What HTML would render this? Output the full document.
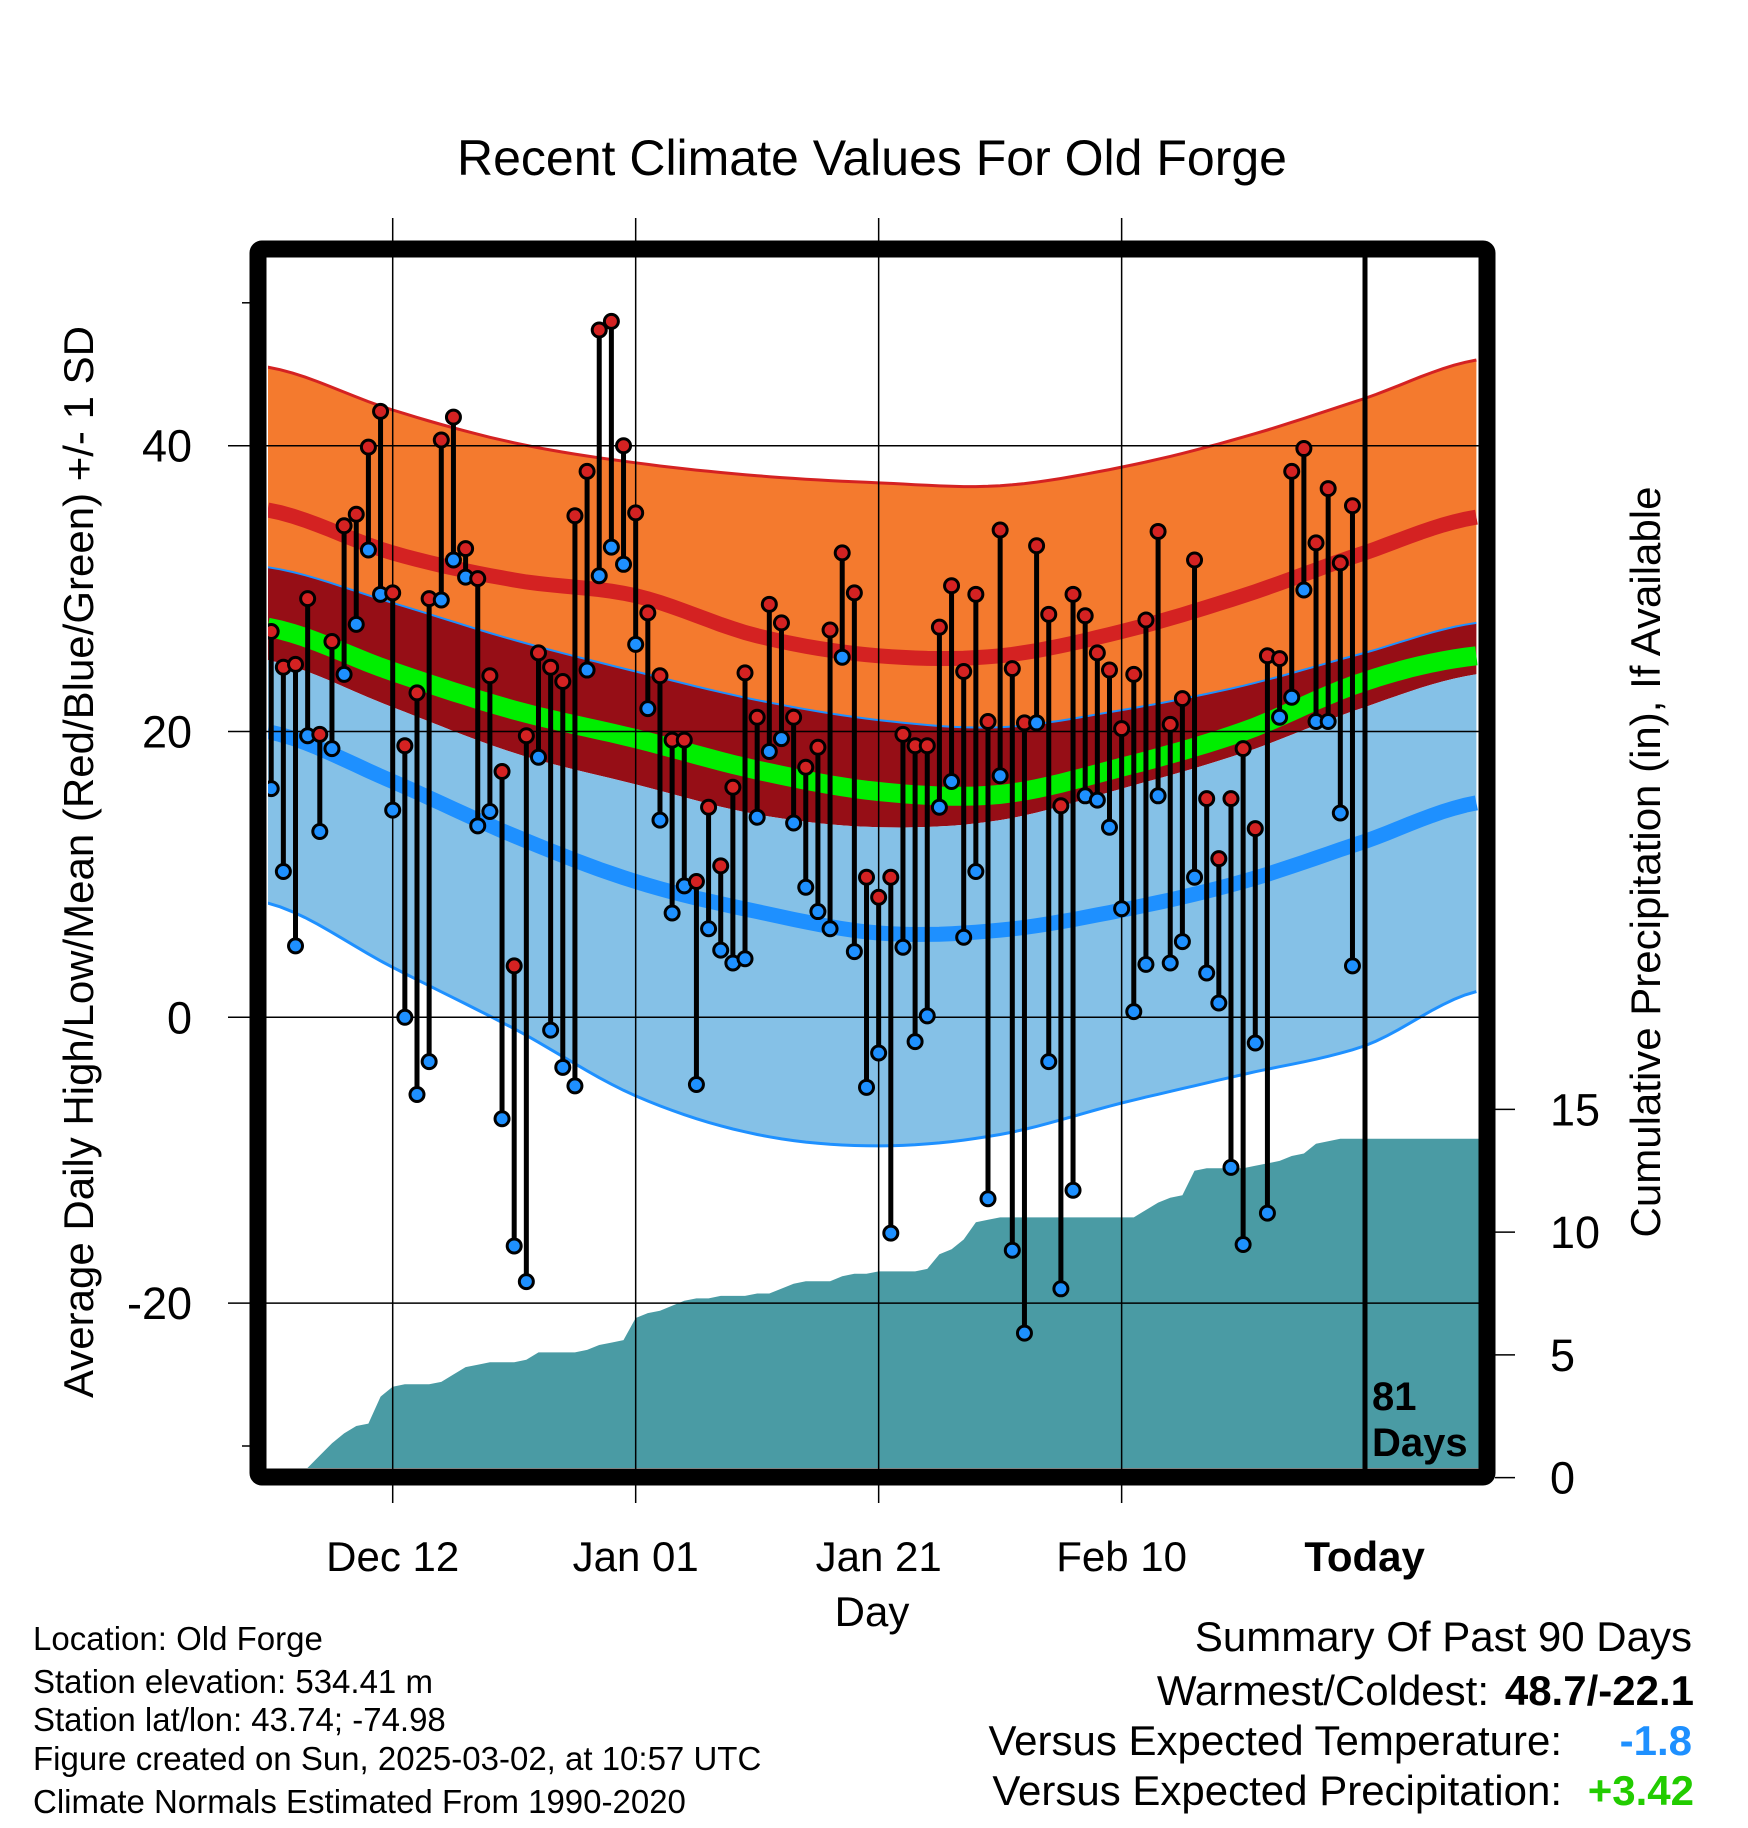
<!DOCTYPE html>
<html><head><meta charset="utf-8">
<style>
html,body{margin:0;padding:0;background:#fff;}
svg{display:block;font-family:"Liberation Sans",Arial,sans-serif;}
</style></head>
<body>
<svg id="chart" width="1748" height="1828" viewBox="0 0 1748 1828" xmlns="http://www.w3.org/2000/svg">
<defs><clipPath id="plotclip"><rect x="268" y="258" width="1211" height="1210"/></clipPath></defs>
<g id="bands" clip-path="url(#plotclip)"></g>
<g id="precip" clip-path="url(#plotclip)"></g>
<g id="grid"></g>
<g id="stems" clip-path="url(#plotclip)"></g>
<rect x="258" y="249" width="1229" height="1228" fill="none" stroke="#000" stroke-width="17" rx="4"/>
<line x1="1365" y1="241" x2="1365" y2="1485" stroke="#000" stroke-width="5"/>
<text x="1372" y="1410" font-size="40" font-weight="bold">81</text>
<text x="1372" y="1456" font-size="40" font-weight="bold">Days</text>
<g id="axes"></g>
<text x="872" y="175" font-size="50" text-anchor="middle">Recent Climate Values For Old Forge</text>
<text transform="translate(93,862) rotate(-90)" font-size="42" text-anchor="middle">Average Daily High/Low/Mean (Red/Blue/Green) +/- 1 SD</text>
<text transform="translate(1660,862) rotate(-90)" font-size="42" text-anchor="middle">Cumulative Precipitation (in), If Available</text>
<text x="872" y="1626" font-size="42" text-anchor="middle">Day</text>
<g font-size="33">
<text x="33" y="1650">Location: Old Forge</text>
<text x="33" y="1693">Station elevation: 534.41 m</text>
<text x="33" y="1731">Station lat/lon: 43.74; -74.98</text>
<text x="33" y="1770">Figure created on Sun, 2025-03-02, at 10:57 UTC</text>
<text x="33" y="1813">Climate Normals Estimated From 1990-2020</text>
</g>
<g font-size="42">
<text x="1692" y="1651" text-anchor="end">Summary Of Past 90 Days</text>
<text x="1489" y="1705" text-anchor="end">Warmest/Coldest:</text>
<text x="1694" y="1705" text-anchor="end" font-weight="bold">48.7/-22.1</text>
<text x="1562" y="1755" text-anchor="end">Versus Expected Temperature:</text>
<text x="1692" y="1755" text-anchor="end" font-weight="bold" fill="#1e90ff">-1.8</text>
<text x="1562" y="1805" text-anchor="end">Versus Expected Precipitation:</text>
<text x="1694" y="1805" text-anchor="end" font-weight="bold" fill="#22cc00">+3.42</text>
</g>
</svg>
<script>
// ---- data ----
const highs = [27,24.5,24.7,29.3,19.8,26.3,34.4,35.2,39.9,42.4,29.7,19,22.7,29.3,40.4,42,32.8,30.7,23.9,17.2,3.6,19.7,25.5,24.5,23.5,35.1,38.2,48.1,48.7,40,35.3,28.3,23.9,19.4,19.4,9.5,14.7,10.6,16.1,24.1,21,28.9,27.6,21,17.5,18.9,27.1,32.5,29.7,9.8,8.4,9.8,19.8,19,19,27.3,30.2,24.2,29.6,20.7,34.1,24.4,20.6,33,28.2,14.8,29.6,28.1,25.5,24.3,20.2,24,27.8,34,20.5,22.3,32,15.3,11.1,15.3,18.8,13.2,25.3,25.1,38.2,39.8,33.2,37,31.8,35.8];
const lows = [16,10.2,5,19.7,13,18.8,24,27.5,32.7,29.6,14.5,0,-5.4,-3.1,29.2,32,30.8,13.4,14.4,-7.1,-16,-18.5,18.2,-0.9,-3.5,-4.8,24.3,30.9,32.9,31.7,26.1,21.6,13.8,7.3,9.2,-4.7,6.2,4.7,3.8,4.1,14,18.6,19.5,13.6,9.1,7.4,6.2,25.2,4.6,-4.9,-2.5,-15.1,4.9,-1.7,0.1,14.7,16.5,5.6,10.2,-12.7,16.9,-16.3,-22.1,20.6,-3.1,-19,-12.1,15.5,15.2,13.3,7.6,0.4,3.7,15.5,3.8,5.3,9.8,3.1,1,-10.5,-15.9,-1.8,-13.7,21,22.4,29.9,20.7,20.7,14.3,3.6];
const precip = [0,0,0,0.4,0.9,1.4,1.8,2.1,2.2,3.3,3.7,3.8,3.8,3.8,3.9,4.2,4.5,4.6,4.7,4.7,4.7,4.8,5.1,5.1,5.1,5.1,5.2,5.4,5.5,5.6,6.5,6.7,6.8,7.0,7.2,7.3,7.3,7.4,7.4,7.4,7.5,7.5,7.7,7.9,8.0,8.0,8.0,8.2,8.3,8.3,8.4,8.4,8.4,8.4,8.5,9.1,9.3,9.7,10.4,10.5,10.6,10.6,10.6,10.6,10.6,10.6,10.6,10.6,10.6,10.6,10.6,10.6,10.9,11.2,11.4,11.5,12.5,12.6,12.6,12.6,12.6,12.7,12.8,12.9,13.1,13.2,13.6,13.7,13.8,13.8];
const normDays = [-0.3,10,20,30,40,50,60,70,80,90,99.2];
const hiUpper = [45.5,42.5,40.2,38.8,37.9,37.4,37.2,38.5,40.6,43.3,46];
const hiMean  = [35.5,32.5,30.6,29.5,26.7,25.3,25.3,27,29.5,32.5,35];
const hiLower = [31.5,29,26.4,24.2,22.2,20.8,20.3,21.5,23.2,25.5,27.6];
const avgMean = [27.3,24.2,21.5,19.5,17.3,15.8,15.6,17.5,20,23.5,25.3];
const loUpper = [25,21.7,18.5,16.3,14.2,13.3,13.8,16,18.5,21.7,24];
const loMean  = [20,16.5,12.7,9.5,7.4,5.9,6.1,7.5,9.5,12.3,15];
const loLower = [8,3.5,-0.8,-5.5,-8.2,-9,-8.2,-6,-4,-2,1.8];
const yTicks = [40,20,0,-20];
const yMinor = [50,-30];
const y2Ticks = [0,5,10,15];
const xTickDays = [10,30,50,70,90];
const xTickLabels = ["Dec 12","Jan 01","Jan 21","Feb 10","Today"];

// ---- scales ----
const X0 = 392.7 - 10*12.149, DX = 12.149;
function xs(d){ return X0 + d*DX; }
function ys(t){ return 1017.3 - t*14.29; }
function yp(p){ return 1477.6 - p*24.55; }
const NS = 'http://www.w3.org/2000/svg';
function mk(tag, attrs, parent){ const e=document.createElementNS(NS,tag); for(const k in attrs) e.setAttribute(k,attrs[k]); parent.appendChild(e); return e; }

function sample(vals){
  const pts=[];
  for(let i=0;i<normDays.length-1;i++){
    const p0=vals[Math.max(i-1,0)],p1=vals[i],p2=vals[i+1],p3=vals[Math.min(i+2,vals.length-1)];
    for(let s=0;s<10;s++){
      const t=s/10, t2=t*t, t3=t2*t;
      const v=0.5*((2*p1)+(-p0+p2)*t+(2*p0-5*p1+4*p2-p3)*t2+(-p0+3*p1-3*p2+p3)*t3);
      const d=normDays[i]+(normDays[i+1]-normDays[i])*t;
      pts.push([xs(d),ys(v)]);
    }
  }
  pts.push([xs(normDays[normDays.length-1]),ys(vals[vals.length-1])]);
  return pts;
}
function bandPath(up,lo){
  const a=sample(up), b=sample(lo).reverse();
  return 'M'+a.map(p=>p[0].toFixed(1)+','+p[1].toFixed(1)).join('L')+'L'+b.map(p=>p[0].toFixed(1)+','+p[1].toFixed(1)).join('L')+'Z';
}
function linePath(v){ return 'M'+sample(v).map(p=>p[0].toFixed(1)+','+p[1].toFixed(1)).join('L'); }

const bands=document.getElementById('bands');
let e;
e=mk('path',{d:bandPath(hiUpper,hiLower),fill:'#f47a2e'},bands);
 
e=mk('path',{d:bandPath(hiLower,loUpper),fill:'#960e16'},bands);
 
e=mk('path',{d:bandPath(loUpper,loLower),fill:'#85c1e7'},bands);
 
e=mk('path',{d:linePath(hiUpper),fill:'none',stroke:'#d42222','stroke-width':3},bands);
 
e=mk('path',{d:linePath(hiLower),fill:'none',stroke:'#1e90ff','stroke-width':2},bands);
 
e=mk('path',{d:linePath(loLower),fill:'none',stroke:'#1e90ff','stroke-width':3},bands);
 
e=mk('path',{d:linePath(hiMean),fill:'none',stroke:'#d42222','stroke-width':15},bands);
 
e=mk('path',{d:linePath(avgMean),fill:'none',stroke:'#00ee00','stroke-width':19},bands);
 
e=mk('path',{d:linePath(loMean),fill:'none',stroke:'#1e90ff','stroke-width':15},bands);
 

const pg=document.getElementById('precip');
let start=0; while(start<precip.length-1 && precip[start+1]===0) start++;
let d='M'+(xs(start)-4).toFixed(1)+','+yp(0);
for(let i=start;i<precip.length;i++) d+='L'+xs(i).toFixed(1)+','+yp(precip[i]).toFixed(1);
d+='L1480,'+yp(precip[precip.length-1]).toFixed(1)+'L1480,'+yp(0)+'Z';
e=mk('path',{d:d,fill:'#4a9ba4'},pg);
 

const grid=document.getElementById('grid');
yTicks.forEach(t=>{
  const l=mk('line',{x1:228,x2:1487,y1:ys(t),y2:ys(t),stroke:'#000','stroke-width':1.5},grid);
   
});
xTickDays.forEach(dd=>{
  if(dd===90) return;
  const l=mk('line',{x1:xs(dd),x2:xs(dd),y1:218,y2:1503,stroke:'#000','stroke-width':1.5},grid);
   
});

const sg=document.getElementById('stems');
highs.forEach((h,i)=>{
  const x=xs(i);
  const s=mk('line',{x1:x,x2:x,y1:ys(h),y2:ys(lows[i]),stroke:'#000','stroke-width':5},sg);
   
});
highs.forEach((h,i)=>{
  const x=xs(i);
  const c1=mk('circle',{cx:x,cy:ys(h),r:7,fill:'#d42222',stroke:'#000','stroke-width':3},sg);
   
  const c2=mk('circle',{cx:x,cy:ys(lows[i]),r:7,fill:'#1e90ff',stroke:'#000','stroke-width':3},sg);
   
});

const ax=document.getElementById('axes');
yTicks.forEach(t=>{
  const tx=mk('text',{x:192,y:ys(t)+16,'font-size':45,'text-anchor':'end'},ax);
  tx.textContent=String(t);
   
});
yMinor.forEach(t=>{
  const l=mk('line',{x1:242,x2:252,y1:ys(t),y2:ys(t),stroke:'#000','stroke-width':1.5},ax);
   
});
y2Ticks.forEach(p=>{
  const l=mk('line',{x1:1495,x2:1515,y1:yp(p),y2:yp(p),stroke:'#000','stroke-width':1.5},ax);
   
  const tx=mk('text',{x:1550,y:yp(p)+16,'font-size':45},ax);
  tx.textContent=String(p);
   
});
xTickDays.forEach((dd,i)=>{
  const tx=mk('text',{x:xs(dd),y:1571,'font-size':42,'text-anchor':'middle'},ax);
  if(i===xTickLabels.length-1) tx.setAttribute('font-weight','bold');
  tx.textContent=xTickLabels[i];
   
});
</script>
</body></html>
